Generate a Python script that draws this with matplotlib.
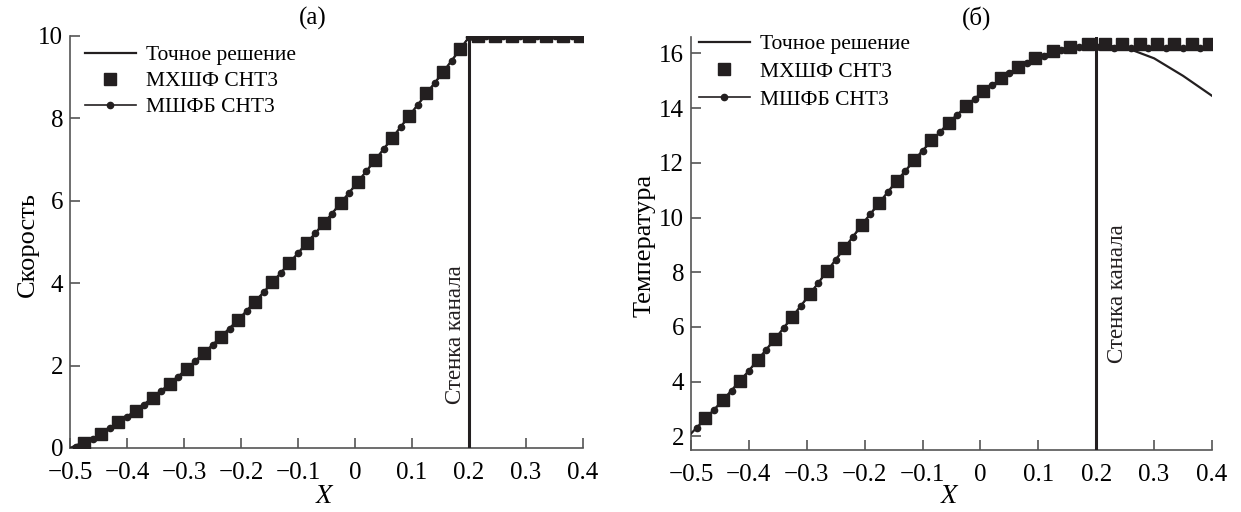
import numpy as np
import matplotlib
matplotlib.use("Agg")
import matplotlib.pyplot as plt

plt.rcParams['font.family'] = ['Liberation Serif', 'DejaVu Serif']
plt.rcParams['mathtext.fontset'] = 'stix'

# ---------------- data ----------------
# grid nodes of the numerical schemes
x_sq = [-0.475, -0.445, -0.415, -0.385, -0.355, -0.325, -0.295, -0.265, -0.235, -0.205,
        -0.175, -0.145, -0.115, -0.085, -0.055, -0.025, 0.005, 0.035, 0.065, 0.095,
        0.125, 0.155, 0.185, 0.215, 0.245, 0.275, 0.305, 0.335, 0.365, 0.395]
x_dot = [-0.49, -0.46, -0.43, -0.40, -0.37, -0.34, -0.31, -0.28, -0.25, -0.22,
         -0.19, -0.16, -0.13, -0.10, -0.07, -0.04, -0.01, 0.02, 0.05, 0.08,
         0.11, 0.14, 0.17, 0.20, 0.23, 0.26, 0.29, 0.32, 0.35, 0.38]
x_exact = [-0.5, -0.45, -0.4, -0.35, -0.3, -0.25, -0.2, -0.15, -0.1, -0.05,
           0.0, 0.05, 0.1, 0.15, 0.2, 0.25, 0.3, 0.35, 0.4]

# (a) velocity
v_exact = [0.0, 0.30, 0.76, 1.27, 1.86, 2.50, 3.18, 3.94, 4.73, 5.53,
           6.37, 7.25, 8.15, 9.04, 9.97, 10.0, 10.0, 10.0, 10.0]
v_mhshf = [0.11, 0.34, 0.62, 0.90, 1.21, 1.55, 1.92, 2.30, 2.69, 3.11,
           3.55, 4.02, 4.49, 4.97, 5.45, 5.94, 6.46, 6.99, 7.52, 8.06,
           8.61, 9.13, 9.68, 10.0, 10.0, 10.0, 10.0, 10.0, 10.0, 10.0]
v_mshfb = [0.03, 0.22, 0.48, 0.76, 1.05, 1.38, 1.73, 2.11, 2.49, 2.90,
           3.33, 3.78, 4.25, 4.73, 5.21, 5.69, 6.20, 6.72, 7.25, 7.79,
           8.33, 8.87, 9.40, 9.98, 10.0, 10.0, 10.0, 10.0, 10.0, 10.0]

# (б) temperature
t_exact = [2.10, 3.20, 4.40, 5.69, 7.05, 8.46, 9.87, 11.20, 12.45, 13.57,
           14.53, 15.30, 15.88, 16.22, 16.32, 16.22, 15.82, 15.18, 14.45]
t_mhshf = [2.67, 3.32, 4.02, 4.78, 5.56, 6.36, 7.19, 8.04, 8.88, 9.74,
           10.53, 11.33, 12.09, 12.82, 13.47, 14.07, 14.62, 15.10, 15.50, 15.84,
           16.08, 16.25, 16.33, 16.35, 16.35, 16.35, 16.35, 16.35, 16.35, 16.35]
t_mshfb = [2.30, 2.98, 3.66, 4.40, 5.16, 5.95, 6.77, 7.61, 8.45, 9.30,
           10.12, 10.92, 11.70, 12.44, 13.13, 13.76, 14.32, 14.84, 15.28, 15.64,
           15.92, 16.12, 16.22, 16.22, 16.20, 16.20, 16.20, 16.20, 16.20, 16.20]

x_wall = 0.2
x_ticks = [-0.5, -0.4, -0.3, -0.2, -0.1, 0, 0.1, 0.2, 0.3, 0.4]
x_ticklabels = ['\u22120.5', '\u22120.4', '\u22120.3', '\u22120.2', '\u22120.1',
                '0', '0.1', '0.2', '0.3', '0.4']
v_ticks = [0, 2, 4, 6, 8, 10]
t_ticks = [2, 4, 6, 8, 10, 12, 14, 16]

leg_labels = ['Точное решение', 'МХШФ СНТ3', 'МШФБ СНТ3']
wall_label = 'Стенка канала'

# ---------------- figure ----------------
W, H = 1241, 512
fig = plt.figure(figsize=(W / 100, H / 100), dpi=100)

def px_axes(x0, x1, y0, y1):
    return fig.add_axes([x0 / W, 1 - y1 / H, (x1 - x0) / W, (y1 - y0) / H])

def fig_pt(xp, yp):
    return (xp / W, 1 - yp / H)

axA = px_axes(70, 583, 36, 448)
axB = px_axes(691, 1212, 37, 450)

FS = 18
col = '#231f20'

def style(ax):
    for s in ['top', 'right']:
        ax.spines[s].set_visible(False)
    for s in ['left', 'bottom']:
        ax.spines[s].set_color('#555555')
        ax.spines[s].set_linewidth(1.2)
    ax.tick_params(direction='in', length=7, width=1.2, color='#555555',
                   labelsize=FS)
    ax.tick_params(axis='x', pad=10)
    ax.tick_params(axis='y', pad=5)
    ax.set_xticks(x_ticks)
    ax.set_xticklabels(x_ticklabels)
    ax.set_xlim(-0.5, 0.4)

def draw(ax, y_exact, y_sq, y_dot, leg_xy, spacing):
    ax.plot(x_exact, y_exact, '-', color=col, lw=1.6, label=leg_labels[0], zorder=3)
    ax.plot(x_sq, y_sq, 's', color=col, ms=8.5, ls='none', label=leg_labels[1], zorder=4)
    ax.plot(x_dot, y_dot, '-o', color=col, ms=4.5, lw=1.2, label=leg_labels[2], zorder=4)
    ax.axvline(x_wall, color=col, lw=2.2, zorder=5)
    ax.legend(loc='upper left', frameon=False, fontsize=15.5, handlelength=2.35,
              borderaxespad=0.0, borderpad=0.0, handletextpad=0.5,
              labelspacing=spacing, numpoints=1,
              bbox_to_anchor=fig_pt(*leg_xy), bbox_transform=fig.transFigure)

style(axA)
draw(axA, v_exact, v_mhshf, v_mshfb, (85, 45), 0.28)
axA.set_ylim(0, 10)
axA.set_yticks(v_ticks)
axA.text(0.176, 2.75, wall_label, rotation=90, ha='center', va='center',
         fontsize=16.5, color=col)

style(axB)
draw(axB, t_exact, t_mhshf, t_mshfb, (699, 34), 0.36)
axB.set_ylim(1.5, 16.6)
axB.set_yticks(t_ticks)
axB.text(0.237, 7.2, wall_label, rotation=90, ha='center', va='center',
         fontsize=16.5, color=col)

# titles, axis labels
fig.text(*fig_pt(313, 18), '(a)', ha='center', va='center', fontsize=FS)
fig.text(*fig_pt(977, 18), '(б)', ha='center', va='center', fontsize=FS)
fig.text(*fig_pt(325, 497), '$X$', ha='center', va='center', fontsize=FS + 1)
fig.text(*fig_pt(950, 497), '$X$', ha='center', va='center', fontsize=FS + 1)
fig.text(*fig_pt(28, 245), 'Скорость', ha='center', va='center', rotation=90,
         fontsize=FS + 1)
fig.text(*fig_pt(645, 245), 'Температура', ha='center', va='center', rotation=90,
         fontsize=FS + 1)

fig.savefig('out.png', dpi=100)
